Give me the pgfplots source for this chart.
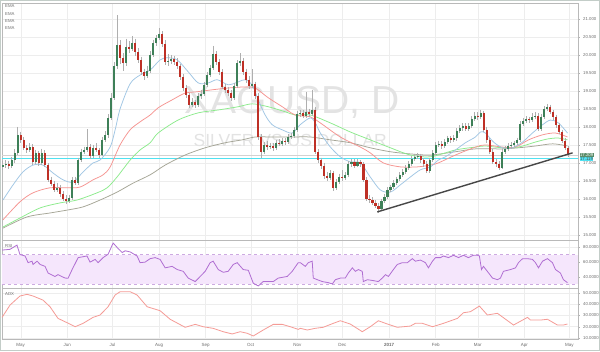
\documentclass[border=0pt]{standalone}
\usepackage{fontspec}
\setmainfont{Liberation Sans}
\usepackage{pgfplots}
\usepackage{pgfplotstable}
\pgfplotsset{compat=1.18}
\definecolor{upg}{RGB}{62,128,88}
\definecolor{dnr}{RGB}{190,48,38}
\definecolor{wick}{RGB}{175,175,175}
\definecolor{emab}{RGB}{160,198,228}
\definecolor{emar}{RGB}{246,148,145}
\definecolor{emag}{RGB}{140,235,140}
\definecolor{emagr}{RGB}{165,165,150}
\definecolor{rsil}{RGB}{176,110,210}
\definecolor{rsif}{RGB}{245,230,252}
\definecolor{rsid}{RGB}{205,170,225}
\definecolor{adxl}{RGB}{245,155,150}
\definecolor{cyanl}{RGB}{80,225,240}
\definecolor{framec}{RGB}{195,205,200}
\definecolor{lab}{RGB}{110,110,110}
\definecolor{lastg}{RGB}{90,140,105}

\pgfplotstableread{
d o h l c
-12 16.90 17.05 16.80 16.94
-10 16.94 17.08 16.85 16.97
-8 16.97 17.06 16.84 16.92
-6 16.92 17.16 16.86 17.08
-4 17.08 17.38 17.00 17.28
-2 17.28 18.00 17.22 17.78
0 17.78 17.86 17.55 17.64
2 17.64 17.72 17.35 17.42
4 17.42 17.50 17.28 17.36
6 17.36 17.55 17.30 17.44
8 17.44 17.52 16.95 17.03
10 17.03 17.36 16.96 17.28
12 17.28 17.34 16.92 17.00
14 17.00 17.40 16.95 17.28
16 17.28 17.35 16.88 16.94
18 16.94 17.00 16.46 16.53
20 16.53 16.62 16.35 16.42
22 16.42 16.50 16.18 16.25
24 16.25 16.45 16.20 16.31
26 16.31 16.38 16.06 16.14
28 16.14 16.22 15.95 16.00
30 16.00 16.10 15.86 15.94
32 15.94 16.12 15.90 16.03
34 16.03 16.60 15.98 16.53
36 16.53 16.62 16.38 16.44
38 16.44 17.15 16.40 17.08
40 17.08 17.40 17.02 17.31
42 17.31 17.45 17.24 17.36
44 17.36 17.94 17.30 17.44
46 17.44 17.52 17.12 17.19
48 17.19 17.50 17.14 17.42
50 17.42 17.55 17.30 17.36
52 17.36 17.42 17.15 17.22
54 17.22 17.72 17.18 17.64
56 17.64 17.88 17.58 17.78
58 17.78 18.35 17.70 18.25
60 18.25 18.95 18.18 18.81
62 18.81 19.80 18.75 19.69
64 19.69 21.10 19.60 20.28
66 20.28 20.40 19.75 19.92
68 19.92 20.05 19.55 19.78
70 19.78 20.45 19.70 20.22
72 20.22 20.38 20.05 20.17
74 20.17 20.52 20.10 20.33
76 20.33 20.45 19.98 20.08
78 20.08 20.18 19.78 19.86
80 19.86 19.95 19.45 19.53
82 19.53 19.62 19.30 19.42
84 19.42 19.70 19.35 19.56
86 19.56 20.10 19.50 20.00
88 20.00 20.42 19.95 20.33
90 20.33 20.55 20.25 20.47
92 20.47 20.75 20.40 20.58
94 20.58 20.66 20.22 20.31
96 20.31 20.40 19.72 19.81
98 19.81 20.02 19.70 19.84
100 19.84 20.00 19.76 19.89
102 19.89 19.98 19.72 19.81
104 19.81 19.90 19.60 19.69
106 19.69 19.76 19.30 19.39
108 19.39 19.48 19.00 19.08
110 19.08 19.15 18.80 18.89
112 18.89 18.95 18.52 18.61
114 18.61 18.80 18.55 18.69
116 18.69 18.76 18.52 18.61
118 18.61 18.95 18.56 18.86
120 18.86 19.02 18.78 18.90
122 18.90 19.25 18.85 19.17
124 19.17 19.52 19.10 19.44
126 19.44 19.72 19.38 19.64
128 19.64 20.25 19.58 20.03
130 20.03 20.10 19.72 19.81
132 19.81 19.88 19.45 19.53
134 19.53 19.60 19.05 19.11
136 19.11 19.20 18.95 19.03
138 19.03 19.12 18.86 18.94
140 18.94 19.02 18.72 18.81
142 18.81 19.22 18.75 19.14
144 19.14 19.85 19.08 19.78
146 19.78 20.05 19.70 19.83
148 19.83 19.90 19.45 19.53
150 19.53 19.62 19.22 19.31
152 19.31 19.40 19.06 19.14
154 19.14 19.60 19.08 19.18
156 19.18 19.26 18.78 18.86
158 18.86 18.94 17.65 17.72
160 17.72 17.80 17.14 17.31
162 17.31 17.58 17.24 17.50
164 17.50 17.60 17.36 17.44
166 17.44 17.55 17.38 17.47
168 17.47 17.55 17.34 17.42
170 17.42 17.64 17.36 17.56
172 17.56 17.66 17.46 17.53
174 17.53 17.70 17.48 17.61
176 17.61 17.68 17.50 17.58
178 17.58 17.80 17.52 17.72
180 17.72 17.84 17.66 17.75
182 17.75 18.00 17.70 17.92
184 17.92 18.45 17.86 18.36
186 18.36 18.48 18.28 18.39
188 18.39 18.46 18.24 18.31
190 18.31 18.97 18.26 18.42
192 18.42 18.50 18.28 18.36
194 18.36 19.03 18.30 18.47
196 18.47 18.55 17.24 17.31
198 17.31 17.38 17.00 17.08
200 17.08 17.15 16.84 16.92
202 16.92 17.00 16.56 16.64
204 16.64 16.75 16.50 16.58
206 16.58 16.80 16.52 16.72
208 16.72 16.78 16.22 16.31
210 16.31 16.55 16.25 16.47
212 16.47 16.70 16.42 16.61
214 16.61 16.80 16.50 16.58
216 16.58 16.75 16.52 16.67
218 16.67 17.05 16.62 16.97
220 16.97 17.12 16.90 17.03
222 17.03 17.10 16.85 16.92
224 16.92 17.10 16.88 17.03
226 17.03 17.08 16.90 16.97
228 16.97 17.02 16.46 16.53
230 16.53 16.60 15.93 16.00
232 16.00 16.10 15.90 15.97
234 15.97 16.05 15.82 15.89
236 15.89 15.96 15.74 15.81
238 15.81 15.88 15.61 15.72
240 15.72 16.00 15.66 15.94
242 15.94 16.14 15.88 16.06
244 16.06 16.32 16.00 16.25
246 16.25 16.40 16.20 16.33
248 16.33 16.52 16.28 16.44
250 16.44 16.62 16.38 16.56
252 16.56 16.74 16.50 16.67
254 16.67 16.82 16.60 16.75
256 16.75 16.94 16.70 16.86
258 16.86 17.05 16.80 16.97
260 16.97 17.18 16.92 17.11
262 17.11 17.25 17.04 17.17
264 17.17 17.28 17.10 17.19
266 17.19 17.26 17.00 17.08
268 17.08 17.14 16.90 16.97
270 16.97 17.04 16.72 16.78
272 16.78 17.15 16.72 17.08
274 17.08 17.35 17.02 17.28
276 17.28 17.58 17.22 17.50
278 17.50 17.62 17.44 17.53
280 17.53 17.60 17.40 17.47
282 17.47 17.66 17.42 17.58
284 17.58 17.76 17.52 17.69
286 17.69 17.75 17.56 17.64
288 17.64 17.78 17.58 17.69
290 17.69 17.96 17.62 17.89
292 17.89 18.04 17.82 17.97
294 17.97 18.10 17.90 18.03
296 18.03 18.10 17.88 17.94
298 17.94 18.10 17.88 18.03
300 18.03 18.30 17.98 18.22
302 18.22 18.40 18.16 18.31
304 18.31 18.40 18.20 18.28
306 18.28 18.48 18.22 18.39
308 18.39 18.45 17.85 17.92
310 17.92 18.00 17.56 17.64
312 17.64 17.70 17.24 17.31
314 17.31 17.38 16.96 17.03
316 17.03 17.10 16.90 16.97
318 16.97 17.04 16.80 16.86
320 16.86 17.38 16.82 17.31
322 17.31 17.46 17.26 17.39
324 17.39 17.54 17.32 17.47
326 17.47 17.58 17.40 17.50
328 17.50 17.62 17.44 17.56
330 17.56 17.70 17.50 17.64
332 17.64 18.15 17.58 18.08
334 18.08 18.25 18.02 18.17
336 18.17 18.30 18.10 18.22
338 18.22 18.28 18.10 18.19
340 18.19 18.38 18.14 18.28
342 18.28 18.40 18.22 18.31
344 18.31 18.38 17.88 17.94
346 17.94 18.36 17.88 18.28
348 18.28 18.58 18.22 18.50
350 18.50 18.64 18.44 18.56
352 18.56 18.62 18.36 18.42
354 18.42 18.48 18.20 18.28
356 18.28 18.34 17.98 18.06
358 18.06 18.12 17.80 17.86
360 17.86 17.92 17.54 17.61
362 17.61 17.68 17.36 17.42
364 17.42 17.48 17.16 17.21
}\candles

\pgfplotsset{
  panel/.style={
    scale only axis, width=576pt, xmin=-12.45, xmax=370.7,
    xtick={0,31,61,92,123,153,184,214,245,276,304,335,365},
    grid=major, grid style={draw=gray!14, line width=0.4pt},
    axis line style={draw=gray!55},
    ytick pos=right, yticklabel pos=right, tick align=outside,
    major tick length=1.6pt,
    ytick style={draw=gray!60},
    xtick style={draw=none},
    yticklabel style={font=\fontsize{4.3}{5}\selectfont, text=lab,
      /pgf/number format/fixed, /pgf/number format/fixed zerofill},
    /pgf/number format/assume math mode=true,
    clip mode=individual,
  }
}

\begin{document}
\begin{tikzpicture}
\useasboundingbox (0,0) rectangle (600pt,351pt);
\fill[white] (0,0) rectangle (600pt,351pt);
\draw[framec, line width=0.8pt] (0.5pt,0.5pt) rectangle (599.5pt,350.5pt);

% ---------------- main price panel
\begin{axis}[panel, at={(2pt,111pt)}, anchor=south west, height=237pt,
  ymin=14.86, ymax=21.44, ytick={15,15.5,...,21},
  yticklabel style={/pgf/number format/precision=3},
  xticklabels={}]
\node[text=gray!22, font=\fontsize{39}{39}\selectfont] at (axis cs:180.6,18.67) {XAGUSD, D};
\node[text=gray!22, font=\fontsize{17.5}{18}\selectfont] at (axis cs:179.3,17.63) {SILVER VS US DOLLAR};
\addplot[gray!35, line width=0.5pt] coordinates {(-12.45,17.209) (370.7,17.209)};
\addplot[cyanl, line width=1.1pt] coordinates {(-12.45,17.119) (370.7,17.119)};
% EMAs
\addplot[emagr, line width=0.75pt, smooth] coordinates {(-11.8,15.19) (4.2,15.5) (19.5,15.61) (30.8,15.69) (41.5,15.78) (52.8,15.97) (64.1,16.19) (74.8,16.44) (86.1,16.67) (96.1,16.94) (109.4,17.22) (122.7,17.42) (136,17.56) (147.3,17.64) (156,17.72) (167.3,17.72) (180.6,17.72) (192.6,17.72) (206,17.64) (219.2,17.56) (232.5,17.42) (245.9,17.31) (259.2,17.25) (272.5,17.22) (289.2,17.31) (302.5,17.39) (320.5,17.39) (331.1,17.42) (342.4,17.47) (353.9,17.53) (363.7,17.47)};
\addplot[emag, line width=0.75pt, smooth] coordinates {(-11.8,15.22) (-0.5,15.47) (12.9,15.75) (26.2,15.89) (37.5,15.97) (50.8,16.17) (57.5,16.31) (64.1,16.61) (72.8,17.08) (79.4,17.36) (86.1,17.56) (91.4,17.83) (104.7,18.19) (118.1,18.39) (131.4,18.47) (144.7,18.56) (154,18.64) (164.6,18.56) (176,18.42) (182.6,18.33) (192.6,18.33) (206,18.11) (219.2,17.86) (232.5,17.64) (245.9,17.42) (259.2,17.22) (272.5,17.17) (289.2,17.36) (302.5,17.44) (309.1,17.47) (320.5,17.42) (331.1,17.44) (342.4,17.58) (351.1,17.67) (357.7,17.69) (363.7,17.64)};
\addplot[emar, line width=0.75pt, smooth] coordinates {(-11.8,15.42) (-0.5,15.92) (8.2,16.17) (19.5,16.31) (30.8,16.31) (39.5,16.33) (48.1,16.53) (54.8,16.67) (59.5,16.89) (66.1,17.5) (72.8,17.92) (79.4,18.14) (86.1,18.33) (91.4,18.53) (100.7,18.75) (109.4,18.94) (116.1,18.97) (127.4,19.03) (138,19.08) (149.3,19.11) (156,19.08) (164.6,18.81) (174,18.56) (182.6,18.33) (192.6,18.28) (199.3,18.11) (212.6,17.72) (225.9,17.44) (232.5,17.28) (241.2,17.0) (252.5,16.89) (263.9,16.89) (272.5,16.94) (277.8,17.0) (289.2,17.22) (302.5,17.44) (309.1,17.5) (320.5,17.44) (329.1,17.44) (337.8,17.64) (347.1,17.78) (355.7,17.83) (363.7,17.72)};
\addplot[emab, line width=0.75pt, smooth] coordinates {(-11.8,15.97) (-5.1,16.39) (1.5,16.75) (8.2,16.94) (14.8,16.94) (21.5,16.72) (28.2,16.53) (34.8,16.47) (41.5,16.75) (48.1,17.0) (52.8,17.08) (59.5,17.44) (63,17.95) (66.1,18.5) (72.8,19.2) (79.4,19.44) (86.1,19.58) (92.7,19.86) (97.4,19.92) (104.1,19.86) (111.4,19.53) (118.1,19.22) (124.7,19.22) (130.7,19.31) (138,19.17) (144.7,19.25) (149.3,19.31) (154,19.17) (158,18.75) (162.6,18.33) (167.3,18.06) (173.9,17.92) (180.6,17.83) (185.9,18.06) (192.6,18.25) (196,18.11) (199.3,17.83) (206,17.44) (212.6,17.17) (219.2,17.03) (225.9,17.0) (232.5,16.61) (239.2,16.25) (245.9,16.19) (252.5,16.39) (259.2,16.61) (265.9,16.81) (272.5,16.89) (277.8,17.08) (282.5,17.17) (289.2,17.36) (295.8,17.56) (302.5,17.72) (305.8,17.86) (309.1,17.83) (314.5,17.58) (320.5,17.42) (327.1,17.42) (333.8,17.58) (340.4,17.83) (347.1,18.06) (352.4,18.19) (357.7,18.11) (363.7,17.83)};
% candles: wicks
\addplot[draw=none, mark=none, error bars/.cd, y dir=minus, y explicit, error mark=none,
  error bar style={draw=wick, line width=0.55pt}]
  table[x=d, y=h, y error minus expr={\thisrow{h}-\thisrow{l}}] {\candles};
% up bodies
\addplot[draw=none, mark=none, unbounded coords=discard, error bars/.cd, y dir=minus, y explicit, error mark=none,
  error bar style={draw=upg, line width=2.1pt}]
  table[x=d, y expr={\thisrow{c}>=\thisrow{o} ? \thisrow{c} : nan}, y error minus expr={\thisrow{c}-\thisrow{o}}] {\candles};
% down bodies
\addplot[draw=none, mark=none, unbounded coords=discard, error bars/.cd, y dir=minus, y explicit, error mark=none,
  error bar style={draw=dnr, line width=2.1pt}]
  table[x=d, y expr={\thisrow{o}>\thisrow{c} ? \thisrow{o} : nan}, y error minus expr={\thisrow{o}-\thisrow{c}}] {\candles};
% trend line
\addplot[black!72, line width=1.4pt] coordinates {(237.2,15.64) (367.1,17.28)};
\node[anchor=west, fill=lastg, text=white, inner sep=0.5pt, font=\fontsize{4.3}{5}\selectfont] at (axis cs:371.6,17.209) {17.209};
\node[anchor=west, fill=cyanl, text=black!70, inner sep=0.5pt, font=\fontsize{4.3}{5}\selectfont] at (axis cs:371.6,17.119) {17.119};
\end{axis}

% ---------------- RSI panel
\begin{axis}[panel, at={(2pt,63pt)}, anchor=south west, height=48pt,
  ymin=24.8, ymax=89.6, ytick={40,60,80},
  yticklabel style={/pgf/number format/precision=4},
  xticklabels={}]
\addplot[fill=rsif, draw=none] coordinates {(-12.45,30) (370.7,30) (370.7,70) (-12.45,70)} -- cycle;
\addplot[rsid, dashed, line width=0.5pt] coordinates {(-12.45,70) (370.7,70)};
\addplot[rsid, dashed, line width=0.5pt] coordinates {(-12.45,30) (370.7,30)};
\addplot[rsil, line width=0.8pt] coordinates {(-12.4,76) (-7.1,77) (-2.5,82.7) (-0.5,70) (2.9,68) (4.9,59) (7.5,61) (8.2,56.6) (10.9,61) (12.9,56.6) (16.2,54) (18.2,45) (22.8,40.4) (24.8,42.8) (29.5,38.2) (31.5,38) (34.2,49.7) (38.2,65.8) (44.1,68) (46.1,59.7) (49.5,63.4) (51.5,59) (54.8,65.8) (58.1,70.3) (61.5,85.5) (64.8,78) (67.5,72.7) (69.5,75) (72.8,73.5) (77.4,68) (79.4,59) (82.7,59.7) (86.1,64.4) (89.4,65.8) (92.7,63.4) (96.1,52) (100.7,54) (104.1,49.7) (108.1,47.3) (111.4,38.2) (116.1,33.5) (119.4,40.4) (122.7,47.3) (126,59) (128,61) (131.4,49.7) (134.7,46) (138,47.3) (141.4,56.6) (144,59) (148,49.7) (151.4,48.7) (154.7,31.3) (158,27.6) (161.3,33.5) (168,33.5) (171.3,38.2) (177.3,40.4) (180.6,47.3) (184.6,59) (186,59) (189.3,54) (191.3,59) (193.9,61) (194.6,38.2) (197.3,36) (200.6,33.5) (204.6,32) (207.3,30.3) (209.3,36) (212.6,38.2) (215.9,38.2) (217.9,45) (220.6,52) (222.6,47.3) (224.6,49.7) (227.2,47.3) (227.9,33.5) (230.6,36) (233.9,35) (237.9,33.5) (240.5,38.2) (242.6,42.8) (244.6,40.4) (247.9,49.7) (250.5,56.6) (253.9,59) (257.2,59) (260.5,64.4) (262.5,61) (265.9,62.5) (269.2,59) (271.2,52) (273.9,61) (275.9,65.8) (279.2,65.8) (281.2,68) (284.5,65.8) (287.9,69) (291.2,65.8) (294.5,69) (297.8,65.8) (301.1,69) (303.8,69) (305.1,68) (306.5,49.7) (307.8,54) (310.4,47.3) (313.8,38.2) (317.1,36) (319.1,38.2) (321.1,47.3) (325.8,49.7) (329.1,52) (331.1,59) (333.8,64.4) (337.1,64.4) (340.4,63.4) (342.4,59) (344.4,52) (347.1,61) (350.4,64.4) (353.7,59) (355.7,49.7) (359,45) (361,36) (363.7,32)};
\end{axis}

% ---------------- ADX panel
\begin{axis}[panel, at={(2pt,11.5pt)}, anchor=south west, height=51.5pt,
  ymin=8.6, ymax=54.2, ytick={10,20,30,40,50},
  yticklabel style={/pgf/number format/precision=4},
  xticklabels={May,Jun,Jul,Aug,Sep,Oct,Nov,Dec,\textbf{2017},Feb,Mar,Apr,May},
  xticklabel style={font=\fontsize{4.5}{5}\selectfont, text=lab, yshift=1pt}]
\addplot[adxl, line width=0.8pt] coordinates {(-12.4,28.2) (-7.1,39.1) (-0.5,47.1) (4.2,48.6) (8.2,47.1) (14.8,43.5) (19.5,37.6) (24.8,27.3) (30.8,23.5) (36.2,19.9) (41.5,22.9) (48.1,28.2) (52.8,30.3) (58.1,37.6) (62.8,48) (66.1,50.9) (72.8,50.9) (77.4,48) (84.1,37.6) (92.7,34.1) (99.4,26.5) (109.4,19.4) (116.1,22) (121.4,19.9) (128,18.5) (134.7,15.5) (140.7,13.5) (146,15.5) (150.7,14.1) (154.7,11.7) (161.3,17) (168,22) (174,22) (179.3,19.9) (184.6,17.6) (186,18.5) (190.6,17) (195.9,18.5) (201.2,19.4) (207.9,22.9) (212.6,25.2) (219.2,22.3) (227.2,15.5) (232.5,19.9) (237.9,25.2) (243.9,22.3) (250.5,19.4) (259.2,20.5) (262.5,22.9) (267.2,22.9) (273.9,19.9) (281.2,22.9) (290.5,27.3) (294.5,32.3) (299.1,33.2) (305.1,38.2) (310.4,30.3) (317.1,31.8) (327.8,21.4) (337.1,28.2) (339.1,25.8) (345.7,25.8) (350.4,26.5) (357,21.4) (361,21.4) (363.7,22.3)};
\end{axis}

% panel captions
\foreach \yy in {345,337,330,323} {
  \node[anchor=west, inner sep=0pt, text=lab, font=\fontsize{4.3}{5}\selectfont] at (5pt,\yy pt) {EMA};
}
\node[anchor=west, inner sep=0pt, text=lab, font=\fontsize{4.3}{5}\selectfont] at (5pt,105pt) {RSI};
\node[anchor=west, inner sep=0pt, text=lab, font=\fontsize{4.3}{5}\selectfont] at (5pt,57pt) {ADX};
\end{tikzpicture}
\end{document}
